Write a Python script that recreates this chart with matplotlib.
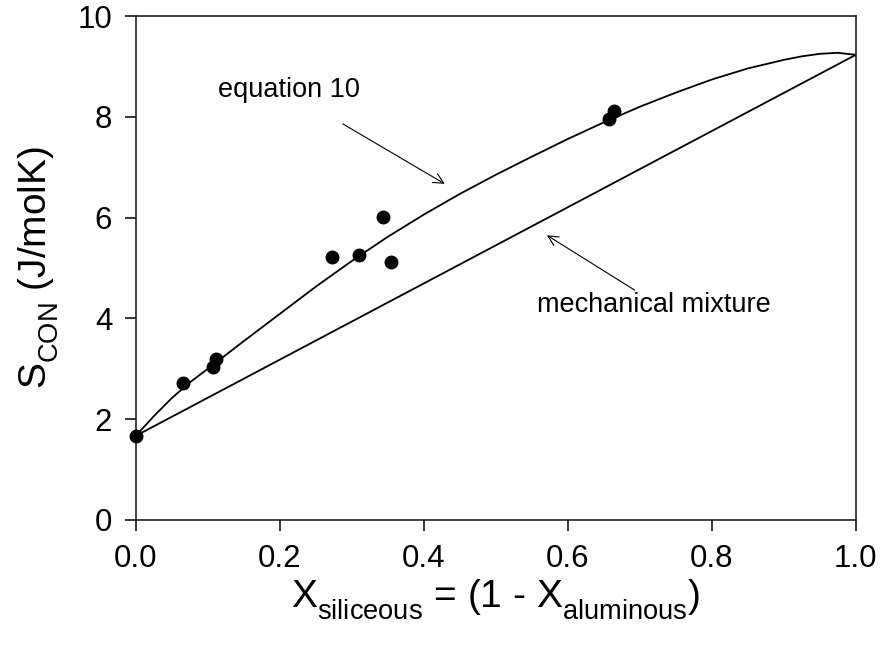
import matplotlib
matplotlib.use("Agg")
import matplotlib.pyplot as plt
import matplotlib._mathtext as mt
import numpy as np

plt.rcParams['font.family'] = ['Liberation Sans', 'DejaVu Sans']
plt.rcParams['mathtext.fontset'] = 'custom'
plt.rcParams['mathtext.rm'] = 'Liberation Sans'
plt.rcParams['mathtext.it'] = 'Liberation Sans'
# drop subscripts a bit further, like the original
mt.FontConstantsBase.sub1 = 0.6
mt.FontConstantsBase.subdrop = 0.6

# measured points
x_data = [0.0, 0.065, 0.107, 0.111, 0.273, 0.310, 0.343, 0.354, 0.657, 0.664]
s_data = [1.67, 2.72, 3.03, 3.20, 5.22, 5.26, 6.01, 5.12, 7.96, 8.12]

# equation 10 curve
x_eq10 = [0.0, 0.025, 0.05, 0.075, 0.1, 0.15, 0.2, 0.25, 0.3, 0.35, 0.4, 0.45, 0.5,
          0.55, 0.6, 0.65, 0.7, 0.75, 0.8, 0.85, 0.9, 0.925, 0.95, 0.975, 1.0]
s_eq10 = [1.67, 2.06, 2.42, 2.73, 3.00, 3.55, 4.09, 4.63, 5.14, 5.62, 6.06, 6.47, 6.85,
          7.21, 7.56, 7.89, 8.20, 8.48, 8.74, 8.96, 9.13, 9.20, 9.25, 9.27, 9.23]

# mechanical mixture (straight line between end members)
x_mech = [0.0, 1.0]
s_mech = [1.67, 9.23]

fig = plt.figure(figsize=(8.82, 6.54), dpi=100)
ax = fig.add_axes([0.154, 0.2049, 0.8163, 0.7706])

ax.plot(x_eq10, s_eq10, color='black', lw=1.3)
ax.plot(x_mech, s_mech, color='black', lw=1.3)
ax.plot(x_data, s_data, 'o', color='black', ms=9, clip_on=False, zorder=5)

ax.set_xlim(0, 1)
ax.set_ylim(0, 10)
ax.set_xticks(np.arange(0, 1.01, 0.2))
ax.set_xticklabels(['0.0', '0.2', '0.4', '0.6', '0.8', '1.0'])
ax.set_yticks(np.arange(0, 11, 2))
ax.tick_params(direction='out', length=8, width=1.1, labelsize=22.5, pad=9)
for sp in ax.spines.values():
    sp.set_linewidth(1.2)
    sp.set_color('#222222')

ax.set_xlabel(r'X$_{\mathrm{siliceous}}$ = (1 - X$_{\mathrm{aluminous}}$)', fontsize=28, labelpad=3)
ax.set_ylabel(r'S$_{\mathrm{CON}}$ (J/molK)', fontsize=28, labelpad=12)

arrow = dict(arrowstyle='->', lw=0.8, color='black', shrinkA=0, shrinkB=0, mutation_scale=18)
ax.annotate('', xy=(0.429, 6.67), xytext=(0.2875, 7.86), arrowprops=arrow)
ax.text(0.114, 8.53, 'equation 10', fontsize=19.5, va='center', ha='left')
ax.annotate('', xy=(0.571, 5.65), xytext=(0.693, 4.56), arrowprops=arrow)
ax.text(0.557, 4.27, 'mechanical mixture', fontsize=19.5, va='center', ha='left')

fig.savefig('out.png', dpi=100)
